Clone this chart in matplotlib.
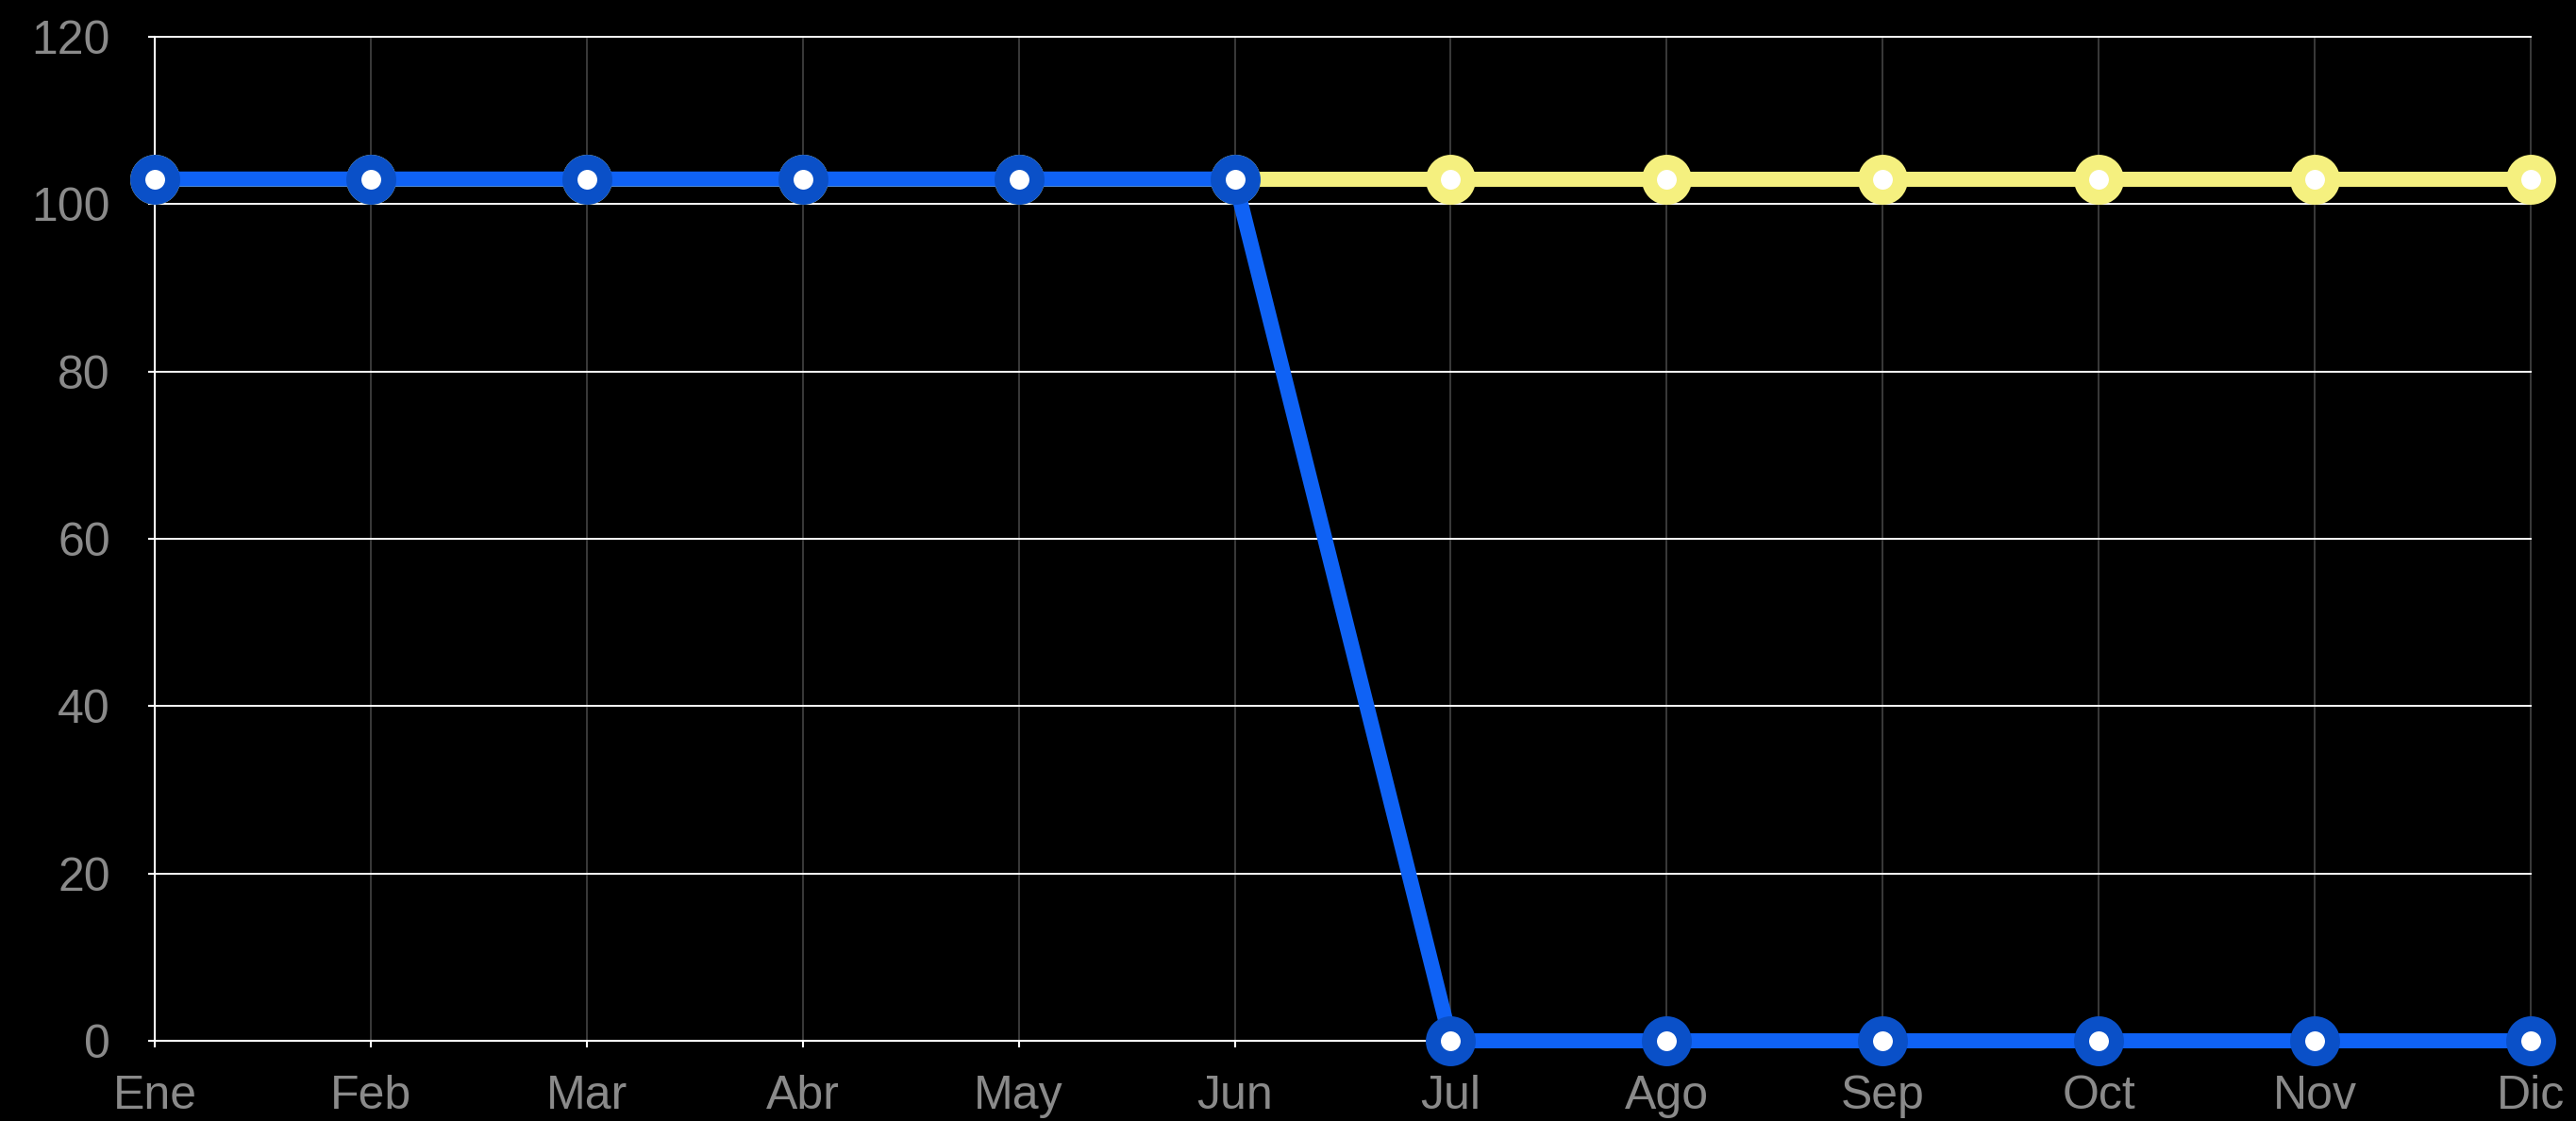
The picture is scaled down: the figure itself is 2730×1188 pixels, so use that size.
import matplotlib
matplotlib.use("Agg")
import matplotlib.pyplot as plt

# datos del gráfico
meses = ["Ene", "Feb", "Mar", "Abr", "May", "Jun",
         "Jul", "Ago", "Sep", "Oct", "Nov", "Dic"]
serie_amarilla = [103, 103, 103, 103, 103, 103, 103, 103, 103, 103, 103, 103]
serie_azul = [103, 103, 103, 103, 103, 103, 0, 0, 0, 0, 0, 0]
y_ticks = [0, 20, 40, 60, 80, 100, 120]

plt.rcParams['font.family'] = ['Liberation Sans', 'DejaVu Sans']

fig = plt.figure(figsize=(27.3, 11.88), dpi=100, facecolor='black')
ax = fig.add_axes([164 / 2730, 1 - 1103 / 1188, (2682 - 164) / 2730, (1103 - 39) / 1188])
ax.set_facecolor('black')

x = list(range(len(meses)))

# amarilla primero, la azul encima
ax.plot(x, serie_amarilla, color='#f5f07f', lw=11.5, marker='o', ms=26.6,
        mfc='white', mec='#f5f07f', mew=11.5, clip_on=False, zorder=3,
        solid_capstyle='butt')
ax.plot(x, serie_azul, color='#0f62f5', lw=11.5, marker='o', ms=26.6,
        mfc='white', mec='#0a50c8', mew=11.5, clip_on=False, zorder=4,
        solid_capstyle='butt', solid_joinstyle='miter')

ax.set_xlim(0, len(meses) - 1)
ax.set_ylim(0, 120)
ax.set_xticks(x)
ax.set_xticklabels(meses)
ax.set_yticks(y_ticks)

# rejilla: horizontales blancas, verticales grises
ax.yaxis.grid(True, color='white', lw=1.4)
ax.xaxis.grid(True, color='#444444', lw=1.2)
ax.set_axisbelow(True)
for linea in ax.get_ygridlines() + ax.get_xgridlines():
    linea.set_clip_on(False)

for lado in ['top', 'right']:
    ax.spines[lado].set_visible(False)
for lado in ['left', 'bottom']:
    ax.spines[lado].set_color('white')
    ax.spines[lado].set_linewidth(1.5)

ax.tick_params(axis='both', colors='white', length=5, width=1.5,
               labelsize=36, labelcolor='#8a8a8a')
ax.tick_params(axis='y', pad=29)
ax.tick_params(axis='x', pad=21)

fig.savefig('out.png', dpi=100, facecolor='black')
